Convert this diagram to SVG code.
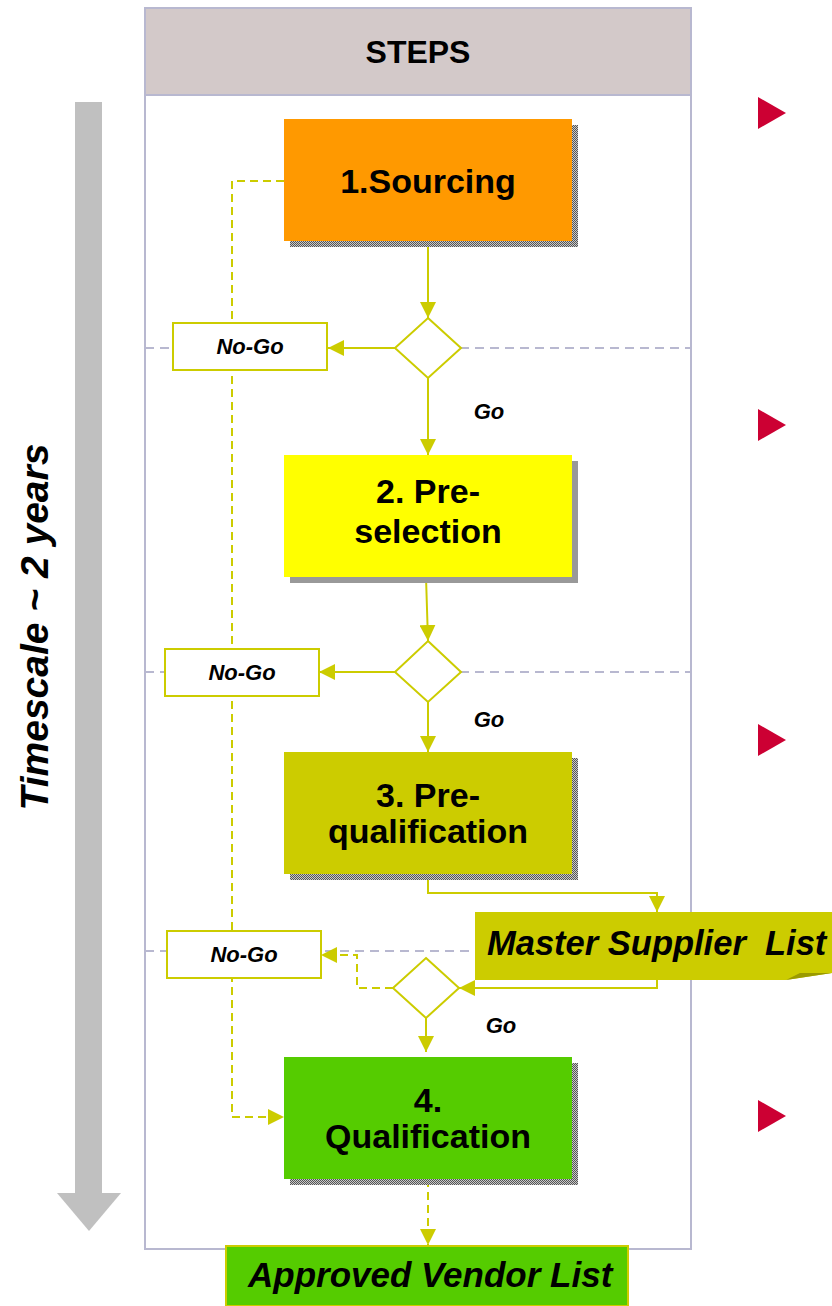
<svg xmlns="http://www.w3.org/2000/svg" width="832" height="1306" viewBox="0 0 832 1306">
<defs>
<style>
.t{font-family:"Liberation Sans",Arial,sans-serif;font-weight:bold;fill:#000}
.bt{font-size:34px;text-anchor:middle}
.it{font-style:italic}
.ng{font-size:22px;text-anchor:middle;font-style:italic}
.ln{stroke:#cccc00;stroke-width:2;fill:none}
.ds{stroke-dasharray:8,5}
.gd{stroke:#b8b8d0;stroke-width:2;stroke-dasharray:9,6;fill:none}
.dia{fill:#fff;stroke:#cccc00;stroke-width:2}
.nob{fill:#fff;stroke:#cccc00;stroke-width:2}
.red{fill:#cc0033}
</style>
<pattern id="chk" width="2" height="2" patternUnits="userSpaceOnUse">
<rect width="2" height="2" fill="#c8c8c8"/>
<rect width="1" height="1" fill="#555"/>
<rect x="1" y="1" width="1" height="1" fill="#555"/>
</pattern>
<marker id="ah" viewBox="0 0 16 16" refX="16" refY="8" markerWidth="16" markerHeight="16" markerUnits="userSpaceOnUse" orient="auto">
<path d="M0,0 L16,8 L0,16 Z" fill="#cccc00"/>
</marker>
</defs>
<rect width="832" height="1306" fill="#fff"/>

<g id="timescale">
<rect x="75" y="102" width="27" height="1092" fill="#c0c0c0"/>
<polygon points="57,1193 121,1193 89,1231" fill="#c0c0c0"/>
<text class="t it" font-size="39" text-anchor="middle" transform="translate(48,627) rotate(-90)">Timescale ~ 2 years</text>
</g>

<g id="frame">
<rect x="145" y="8" width="546" height="1241" fill="#fff" stroke="#b8b8d0" stroke-width="2"/>
<rect x="145" y="8" width="546" height="87" fill="#d3c9c9" stroke="#b8b8d0" stroke-width="2"/>
<text class="t" font-size="32" x="418" y="63" text-anchor="middle">STEPS</text>
</g>

<g id="gridlines">
<line class="gd" x1="145" y1="348" x2="691" y2="348"/>
<line class="gd" x1="145" y1="672" x2="691" y2="672"/>
<line class="gd" x1="145" y1="951" x2="691" y2="951"/>
</g>

<g id="bullets">
<polygon class="red" points="758,97 758,129 786,113"/>
<polygon class="red" points="758,409 758,441 786,425"/>
<polygon class="red" points="758,724 758,756 786,740"/>
<polygon class="red" points="758,1100 758,1132 786,1116"/>
</g>

<g id="connectors">
<path class="ln ds" d="M284,181 H232 V1117 H284" marker-end="url(#ah)"/>
<path class="ln" d="M428,241 V318" marker-end="url(#ah)"/>
<path class="ln" d="M395,348 H328" marker-end="url(#ah)"/>
<path class="ln" d="M428,378 V455" marker-end="url(#ah)"/>
<path class="ln" d="M426,577 L428,641" marker-end="url(#ah)"/>
<path class="ln" d="M395,672 H319" marker-end="url(#ah)"/>
<path class="ln" d="M428,702 V752" marker-end="url(#ah)"/>
<path class="ln" d="M428,874 V893 H657 V912" marker-end="url(#ah)"/>
<path class="ln" d="M657,979 V988 H459" marker-end="url(#ah)"/>
<path class="ln ds" d="M393,988 H357 V955 H321" marker-end="url(#ah)"/>
<path class="ln" d="M426,1018 V1052" marker-end="url(#ah)"/>
<path class="ln ds" d="M428,1179 V1245" marker-end="url(#ah)"/>
<text class="t ng" x="489" y="419">Go</text>
<text class="t ng" x="489" y="727">Go</text>
<text class="t ng" x="501" y="1033">Go</text>
</g>

<g id="step1">
<rect x="290" y="125" width="288" height="122" fill="url(#chk)"/>
<rect x="284" y="119" width="288" height="122" fill="#ff9900"/>
<text class="t bt" x="428" y="193">1.Sourcing</text>
</g>

<g id="decision1">
<polygon class="dia" points="428,318 461,348 428,378 395,348"/>
</g>
<g id="nogo1">
<rect class="nob" x="173" y="323" width="154" height="47"/>
<text class="t ng" x="250" y="354">No-Go</text>
</g>

<g id="step2">
<rect x="290" y="461" width="288" height="122" fill="#999"/>
<rect x="284" y="455" width="288" height="122" fill="#ffff00"/>
<text class="t bt" x="428" y="503">2. Pre-</text>
<text class="t bt" x="428" y="543">selection</text>
</g>

<g id="decision2">
<polygon class="dia" points="428,641 461,672 428,702 395,672"/>
</g>
<g id="nogo2">
<rect class="nob" x="165" y="649" width="154" height="47"/>
<text class="t ng" x="242" y="680">No-Go</text>
</g>

<g id="step3">
<rect x="290" y="758" width="288" height="122" fill="url(#chk)"/>
<rect x="284" y="752" width="288" height="122" fill="#cccc00"/>
<text class="t bt" x="428" y="807">3. Pre-</text>
<text class="t bt" x="428" y="843">qualification</text>
</g>

<g id="master-list">
<path d="M475,912 H832 V973 L786,980 H475 Z" fill="#cccc00"/>
<path d="M786,980 L800,973 L832,973 Z" fill="#9a9a00"/>
<text class="t it" font-size="34.5" x="487" y="955" xml:space="preserve">Master Supplier  List</text>
</g>

<g id="decision3">
<polygon class="dia" points="426,958 459,988 426,1018 393,988"/>
</g>
<g id="nogo3">
<rect class="nob" x="167" y="931" width="154" height="47"/>
<text class="t ng" x="244" y="962">No-Go</text>
</g>

<g id="step4">
<rect x="290" y="1063" width="288" height="122" fill="url(#chk)"/>
<rect x="284" y="1057" width="288" height="122" fill="#55cc00"/>
<text class="t bt" x="428" y="1112">4.</text>
<text class="t bt" x="428" y="1148">Qualification</text>
</g>

<g id="vendor-list">
<path d="M226,1246 H628 V1306 H226 Z" fill="#55cc00" stroke="#cccc00" stroke-width="2"/>
<text class="t it" font-size="35" x="248" y="1287">Approved Vendor List</text>
</g>
</svg>
